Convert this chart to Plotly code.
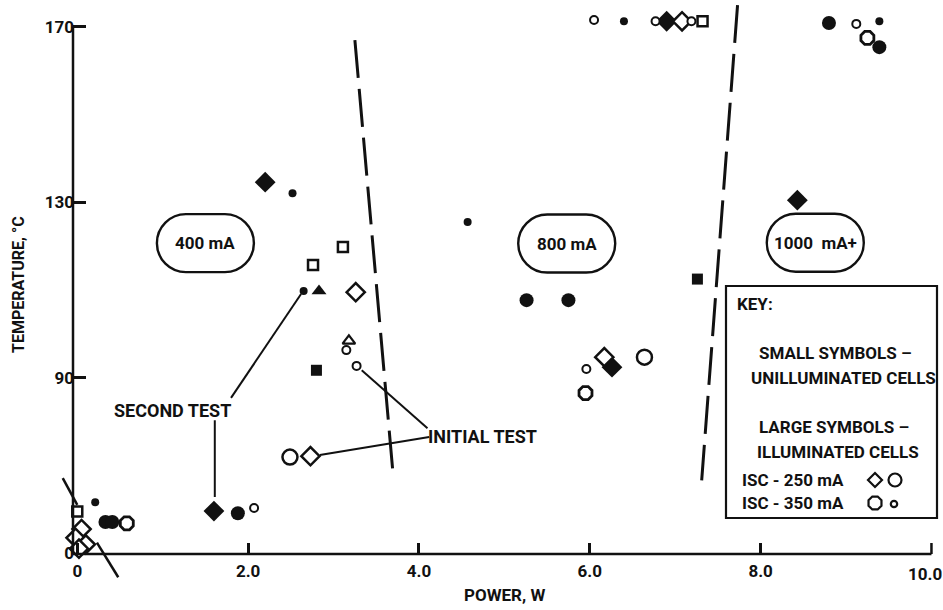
import math
import plotly.graph_objects as go

# ---------------- axis extents and ticks ----------------
X_RANGE = [-0.05, 10.1]
Y_RANGE = [49.8, 172.5]
X_AXIS_END = 10.0
Y_AXIS_END = 170.0
x_tick_vals = [0, 2, 4, 6, 8]
x_tick_text = ["0", "2.0", "4.0", "6.0", "8.0"]
x_end_tick_text = "10.0"
y_tick_vals = [50, 90, 130, 170]
y_tick_text = ["0", "90", "130", "170"]

# ---------------- measured points, grouped by symbol ----------------
# small filled circles
sfc_x = [0.21, 2.52, 2.65, 4.57, 6.40, 9.39]
sfc_y = [61.6, 132.1, 109.8, 125.5, 171.3, 171.3]
# large filled circles
lfc_x = [-0.08, 0.33, 0.41, 1.88, 5.26, 5.75, 8.80, 9.39]
lfc_y = [56.0, 57.1, 57.1, 59.1, 107.7, 107.7, 170.9, 165.4]
# filled diamonds
fd_x = [1.60, 2.20, 6.26, 6.90, 8.43]
fd_y = [59.6, 134.6, 92.4, 171.3, 130.5]
# filled squares
fs_x = [2.80, 7.26]
fs_y = [91.7, 112.5]
# filled triangle
ft_x = [2.83]
ft_y = [109.8]
# open squares
os_x = [0.0, 2.76, 3.11, 7.32]
os_y = [59.5, 115.7, 119.8, 171.3]
# open diamonds
od_x = [0.05, -0.02, 0.10, 0.02, 2.73, 3.26, 6.17, 7.08]
od_y = [55.5, 53.5, 52.0, 51.0, 72.1, 109.5, 94.7, 171.3]
# open triangle
ot_x = [3.18]
ot_y = [98.4]
# small open circles
soc_x = [2.07, 3.15, 3.27, 5.96, 6.05, 6.77, 7.19, 9.12]
soc_y = [60.3, 96.3, 92.7, 92.0, 171.6, 171.3, 171.3, 170.7]
# large open circles
loc_x = [2.49, 6.64]
loc_y = [71.9, 94.7]
# large open octagons (350 mA)
log_x = [0.58, 5.95, 9.25]
log_y = [56.8, 86.5, 167.5]

# ---------------- current-region boundaries (dashed) ----------------
boundary_a = [(3.25, 167.0), (3.70, 67.3)]
boundary_b = [(7.73, 175.0), (7.31, 66.6)]
boundary_origin = [[(-0.17, 67.1), (0.00, 61.0)], [(0.23, 52.4), (0.48, 44.5)]]

# region labels
region_labels = ["400 mA", "800 mA", "1000  mA+"]
region_x = [1.50, 5.73, 8.64]
region_y = [120.7, 120.6, 120.8]

INK = "#111111"
FONT = "Roboto, Liberation Sans, Arial, sans-serif"

W, H = 943, 610
M = dict(l=73, r=3, t=16, b=56)
PW = W - M["l"] - M["r"]
PH = H - M["t"] - M["b"]


def xp(x):
    return (x - X_RANGE[0]) / (X_RANGE[1] - X_RANGE[0])


def yp(y):
    return (y - Y_RANGE[0]) / (Y_RANGE[1] - Y_RANGE[0])


def pix(px, py):
    """figure pixel -> paper fraction"""
    return (px - M["l"]) / PW, (H - M["b"] - py) / PH


fig = go.Figure()


def add_markers(xs, ys, symbol, size, filled, lw=2.5):
    fig.add_trace(go.Scatter(
        x=xs, y=ys, mode="markers", cliponaxis=False, showlegend=False,
        marker=dict(symbol=symbol, size=size,
                    color=INK if filled else "white",
                    line=dict(color=INK, width=0 if filled else lw)),
    ))


add_markers(sfc_x, sfc_y, "circle", 8, True)
add_markers(lfc_x, lfc_y, "circle", 14, True)
add_markers(fd_x, fd_y, "diamond", 16, True)
add_markers(fs_x, fs_y, "square", 11, True)
add_markers(ft_x, ft_y, "triangle-up", 13, True)
add_markers(os_x, os_y, "square", 10, False, 2.5)
add_markers(od_x, od_y, "diamond", 14, False, 2.5)
add_markers(ot_x, ot_y, "triangle-up", 11, False, 2.2)
add_markers(soc_x, soc_y, "circle", 8, False, 2)
add_markers(loc_x, loc_y, "circle", 15, False, 2.5)
add_markers(log_x, log_y, "octagon", 14, False, 2.8)

shapes = []


def seg(p, q, dash="solid", width=2.5):
    shapes.append(dict(type="line", xref="paper", yref="paper",
                       x0=xp(p[0]), y0=yp(p[1]), x1=xp(q[0]), y1=yp(q[1]),
                       line=dict(color=INK, width=width, dash=dash)))


# axis lines: y from the floor up to 170, x from the origin to 10.0
seg((X_RANGE[0], Y_RANGE[0]), (X_RANGE[0], Y_AXIS_END), width=2.5)
seg((X_RANGE[0], Y_RANGE[0]), (X_AXIS_END, Y_RANGE[0]), width=2.5)
# upturned end tick of the x axis
shapes.append(dict(type="line", xref="x", yref="paper",
                   x0=X_AXIS_END, x1=X_AXIS_END, y0=0, y1=11 / PH,
                   line=dict(color=INK, width=2.5)))

seg(*boundary_a, dash="38px,11px", width=3)
seg(*boundary_b, dash="38px,11px", width=3)
for s in boundary_origin:
    seg(*s, width=2.5)

# callout leaders
seg((1.80, 85.4), (2.62, 109.1), width=2)
seg((1.61, 80.3), (1.61, 62.8), width=2)
seg((4.10, 78.5), (3.33, 91.7), width=2)
seg((4.12, 76.5), (2.84, 72.4), width=2)


def stadium(w, h):
    r = h / 2
    a = w / 2 - r
    k = 0.5523 * r
    return (f"M {-a},{r} L {a},{r} "
            f"C {a + k},{r} {a + r},{k} {a + r},0 "
            f"C {a + r},{-k} {a + k},{-r} {a},{-r} "
            f"L {-a},{-r} "
            f"C {-a - k},{-r} {-a - r},{-k} {-a - r},0 "
            f"C {-a - r},{k} {-a - k},{r} {-a},{r} Z")


for lbl, cx, cy in zip(region_labels, region_x, region_y):
    shapes.append(dict(type="path", xref="x", yref="y",
                       xsizemode="pixel", ysizemode="pixel",
                       xanchor=cx, yanchor=cy, path=stadium(97, 58),
                       line=dict(color=INK, width=2.4)))

# key box
kx0, ky0 = pix(726, 286)
kx1, ky1 = pix(937, 518)
shapes.append(dict(type="rect", xref="paper", yref="paper",
                   x0=kx0, y0=ky0, x1=kx1, y1=ky1,
                   line=dict(color=INK, width=2.2)))


def key_symbol(px, py, path):
    ax, ay = pix(px, py)
    shapes.append(dict(type="path", xref="paper", yref="paper",
                       xsizemode="pixel", ysizemode="pixel",
                       xanchor=ax, yanchor=ay, path=path,
                       line=dict(color=INK, width=2.2)))


def circle_path(r):
    k = 0.5523 * r
    return (f"M 0,{r} C {k},{r} {r},{k} {r},0 C {r},{-k} {k},{-r} 0,{-r} "
            f"C {-k},{-r} {-r},{-k} {-r},0 C {-r},{k} {-k},{r} 0,{r} Z")


def octagon_path(r):
    pts = [(r * math.cos(math.pi / 8 + i * math.pi / 4),
            r * math.sin(math.pi / 8 + i * math.pi / 4)) for i in range(8)]
    return "M " + " L ".join(f"{x:.2f},{y:.2f}" for x, y in pts) + " Z"


key_symbol(875, 480, "M 0,7 L 7,0 L 0,-7 L -7,0 Z")
key_symbol(895, 480, circle_path(6.5))
key_symbol(875, 503, octagon_path(7))
key_symbol(894, 504, circle_path(3.2))

annotations = []


def label(text, x, y, size=16, xanchor="center", ref="data", angle=0):
    if ref == "pixel":
        x, y = pix(x, y)
        xr, yr = "paper", "paper"
    else:
        xr, yr = "x", "y"
    annotations.append(dict(text=f"<b>{text}</b>", x=x, y=y, xref=xr, yref=yr,
                            showarrow=False, xanchor=xanchor, yanchor="middle",
                            textangle=angle,
                            font=dict(family=FONT, size=size, color=INK)))


for lbl, cx, cy in zip(region_labels, region_x, region_y):
    label(lbl.replace(" ", "&nbsp;"), cx, cy, size=17)

label("SECOND TEST", 1.11, 82.6, size=18)
label("INITIAL TEST", 4.74, 76.5, size=18, xanchor="center")

label("KEY:", 735, 304, size=17, xanchor="left", ref="pixel")
label("SMALL SYMBOLS –", 835, 353, size=17, ref="pixel")
label("UNILLUMINATED CELLS", 843, 378, size=17, ref="pixel")
label("LARGE SYMBOLS –", 834, 427, size=17, ref="pixel")
label("ILLUMINATED CELLS", 838, 452, size=17, ref="pixel")
label("ISC - 250 mA", 740, 480, size=17, xanchor="left", ref="pixel")
label("ISC - 350 mA", 740, 503, size=17, xanchor="left", ref="pixel")

label("TEMPERATURE, °C", 18, 285, size=16, ref="pixel", angle=-90)
label("POWER, W", 504, 595, size=17, ref="pixel")

# end-of-axis tick label
annotations.append(dict(text=f"<b>{x_end_tick_text}</b>", x=X_AXIS_END, y=0,
                        xref="x", yref="paper", showarrow=False,
                        xanchor="center", yanchor="top", xshift=-6, yshift=-8,
                        font=dict(family=FONT, size=17, color=INK)))

axis_common = dict(showgrid=False, zeroline=False, showline=False,
                   ticks="inside", tickcolor=INK, tickwidth=2.5,
                   tickfont=dict(family=FONT, size=17, color=INK))

fig.update_layout(
    width=W, height=H, margin=M,
    paper_bgcolor="white", plot_bgcolor="white",
    shapes=shapes, annotations=annotations,
    xaxis=dict(range=X_RANGE, tickvals=x_tick_vals,
               ticktext=[f"<b>{t}</b>" for t in x_tick_text],
               ticklen=11, ticklabelstandoff=5, **axis_common),
    yaxis=dict(range=Y_RANGE, tickvals=y_tick_vals,
               ticktext=[f"<b>{t}</b>" for t in y_tick_text],
               ticklen=13, ticklabelstandoff=-2, **axis_common),
)

fig.write_html("out.html")
